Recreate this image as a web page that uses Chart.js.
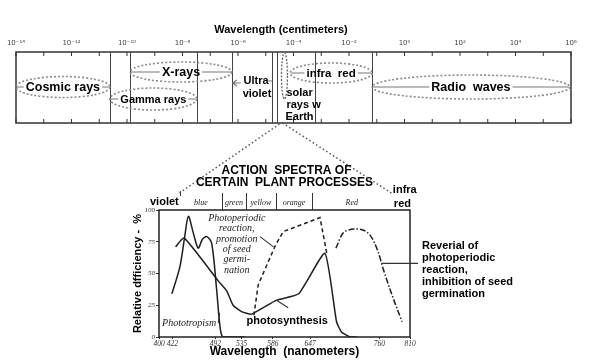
<!DOCTYPE html>
<html>
<head>
<meta charset="utf-8">
<script src="https://cdn.jsdelivr.net/npm/chart.js@4.4.1/dist/chart.umd.min.js"></script>
<style>
  html, body { margin: 0; padding: 0; background: #fff; }
  #wrap { position: relative; width: 591px; height: 364px; overflow: hidden; }
  #wrap canvas { position: absolute; left: 0; top: 0; }
</style>
</head>
<body>
<div id="wrap">
  <canvas id="spectrum" width="591" height="364"></canvas>
  <canvas id="action" width="591" height="364"></canvas>
</div>
<script>
// ---- electromagnetic spectrum, wavelength in cm ----
const cmTicks = [1e-14, 1e-12, 1e-10, 1e-8, 1e-6, 1e-4, 1e-2, 1e0, 1e2, 1e4, 1e6];
const regionNames = ['Cosmic rays', 'Gamma rays', 'X-rays', 'infra  red', 'Radio  waves'];
const regionFrom = [1e-14, 2.4e-11, 1.3e-10, 7.6e-5, 0.068];
const regionTo = [2.4e-11, 3.3e-8, 6e-7, 0.068, 9e5];
const uvRange = [6e-7, 1.7e-5];
const solarRange = [4e-5, 7.6e-5];
const dividersCm = [2.4e-11, 1.3e-10, 3.3e-8, 6e-7, 1.7e-5, 2.6e-5, 5.9e-4, 0.068];

// ---- action spectra, wavelength in nm, efficiency in % ----
const nmTicks = [400, 422, 492, 535, 586, 647, 760, 810];
const pctTicks = [0, 25, 50, 75, 100];
const bandNames = ['blue', 'green', 'yellow', 'orange', 'Red'];
const bandFrom = [434, 503, 542, 591, 650];
const bandTo = [503, 542, 591, 650, 780];
const zoomToNm = [431, 782];

const phototropismNm = [421, 434, 442, 448, 456, 464, 471, 478, 486, 494, 500, 505, 540];
const phototropismPct = [34, 55, 79, 95, 82, 70, 77, 79, 74, 38, 7, 0, 0];
const photosynthesisNm = [427, 441, 497, 511, 521, 535, 551, 592, 628, 671, 690, 698, 712, 723];
const photosynthesisPct = [71, 78, 44, 36, 25, 20, 18, 29, 34, 66, 12, 4, 0, 0];
const promotionNm = [555, 562, 590, 603, 663, 674];
const promotionPct = [17, 41, 72, 83, 94, 66];
const reversalNm = [689, 701, 723, 745, 758, 766, 777, 797];
const reversalPct = [70, 82, 85, 80, 67, 54, 38, 12];

const SANS = '"Liberation Sans", Arial, sans-serif';
const HAND = '"Liberation Serif", serif';
Chart.defaults.font.family = SANS;

const SUP = { '-': '\u207B', '0': '\u2070', '1': '\u00B9', '2': '\u00B2', '3': '\u00B3', '4': '\u2074',
  '5': '\u2075', '6': '\u2076', '7': '\u2077', '8': '\u2078', '9': '\u2079' };
const sup = n => String(n).split('').map(c => SUP[c]).join('');
const pts = (xs, ys) => xs.map((x, i) => ({ x: x, y: ys[i] }));

// vertical lane (px below box top) and half height of each region's oval
const regionLane = [35, 47, 20, 21, 35];
const regionRy = [10.5, 11, 10, 10, 12];
const regionFont = [12.5, 11, 12.5, 11.5, 12.5];

function oval(ctx, x1, x2, cy, ry) {
  ctx.beginPath();
  ctx.ellipse((x1 + x2) / 2, cy, (x2 - x1) / 2, ry, 0, 0, Math.PI * 2);
  ctx.stroke();
}

const spectrumPlugin = {
  id: 'spectrumDecor',
  afterDraw(chart) {
    const ctx = chart.ctx, a = chart.chartArea, x = chart.scales.x, y = chart.scales.y;
    ctx.save();
    // box
    ctx.strokeStyle = '#333';
    ctx.lineWidth = 1.5;
    ctx.strokeRect(a.left, a.top, a.right - a.left, a.bottom - a.top);
    // inward decade ticks
    ctx.lineWidth = 1;
    for (let e = -14; e <= 6; e++) {
      const px = x.getPixelForValue(Math.pow(10, e));
      ctx.beginPath();
      ctx.moveTo(px, a.top); ctx.lineTo(px, a.top + 4);
      ctx.moveTo(px, a.bottom); ctx.lineTo(px, a.bottom - 4);
      ctx.stroke();
    }
    // dividers
    ctx.strokeStyle = '#444';
    dividersCm.forEach(v => {
      const px = Math.round(x.getPixelForValue(v)) + 0.5;
      ctx.beginPath(); ctx.moveTo(px, a.top); ctx.lineTo(px, a.bottom); ctx.stroke();
    });
    // regions
    ctx.textAlign = 'center';
    ctx.textBaseline = 'middle';
    regionNames.forEach((name, i) => {
      const x1 = x.getPixelForValue(regionFrom[i]);
      const x2 = x.getPixelForValue(regionTo[i]);
      const cy = y.getPixelForValue(regionLane[i]);
      const cx = (x1 + x2) / 2;
      ctx.strokeStyle = '#8a8a8a';
      ctx.lineWidth = 1.6;
      ctx.setLineDash([2, 2]);
      oval(ctx, x1, x2, cy, regionRy[i]);
      ctx.setLineDash([]);
      ctx.font = 'bold ' + regionFont[i] + 'px ' + SANS;
      const w = ctx.measureText(name).width;
      ctx.strokeStyle = '#777';
      ctx.lineWidth = 1;
      ctx.beginPath();
      ctx.moveTo(x1 + 1, cy); ctx.lineTo(cx - w / 2 - 2, cy);
      ctx.moveTo(cx + w / 2 + 2, cy); ctx.lineTo(x2 - 1, cy);
      ctx.stroke();
      ctx.fillStyle = '#000';
      ctx.fillText(name, cx, cy + 0.5);
    });
    // ultra violet with arrows
    const u1 = x.getPixelForValue(uvRange[0]), u2 = x.getPixelForValue(uvRange[1]);
    const uc = (u1 + u2) / 2, uy = y.getPixelForValue(31);
    ctx.font = 'bold 11px ' + SANS;
    ctx.fillStyle = '#000';
    ctx.fillText('Ultra', uc + 4, y.getPixelForValue(29));
    ctx.fillText('violet', uc + 5, y.getPixelForValue(42));
    ctx.strokeStyle = '#777';
    ctx.lineWidth = 1.2;
    ctx.beginPath();
    ctx.moveTo(u1 + 9, uy); ctx.lineTo(u1 + 1, uy);
    ctx.moveTo(u1 + 5, uy - 3); ctx.lineTo(u1 + 1, uy); ctx.lineTo(u1 + 5, uy + 3);
    ctx.moveTo(u2 - 5, uy - 2); ctx.lineTo(u2, uy - 2);
    ctx.stroke();
    // solar rays at earth
    const s1 = x.getPixelForValue(solarRange[0]);
    ctx.strokeStyle = '#666';
    ctx.lineWidth = 1.3;
    ctx.setLineDash([2, 1.5]);
    oval(ctx, s1 - 1, s1 + 5, y.getPixelForValue(24), 23);
    ctx.setLineDash([]);
    ctx.textAlign = 'left';
    ctx.font = 'bold 11px ' + SANS;
    ctx.fillText('solar', s1 + 4, y.getPixelForValue(41));
    ctx.fillText('rays w', s1 + 4, y.getPixelForValue(53));
    ctx.fillText('Earth', s1 + 3, y.getPixelForValue(65));
    // axis title
    ctx.textAlign = 'center';
    ctx.font = 'bold 11px ' + SANS;
    ctx.fillText('Wavelength (centimeters)', a.left + 265, 30);
    ctx.restore();
  }
};

const spectrumChart = new Chart(document.getElementById('spectrum'), {
  type: 'scatter',
  data: { datasets: [] },
  options: {
    responsive: false,
    animation: false,
    layout: { padding: { left: 16, right: 20, top: 40, bottom: 241 } },
    plugins: { legend: { display: false }, tooltip: { enabled: false } },
    scales: {
      x: {
        type: 'logarithmic',
        position: 'top',
        min: 1e-14,
        max: 1e6,
        afterBuildTicks: s => { s.ticks = cmTicks.map(v => ({ value: v })); },
        afterFit: s => { s.height = 12; },
        grid: { display: false, drawTicks: false },
        border: { display: false },
        ticks: {
          autoSkip: false, maxRotation: 0, padding: 5, color: '#444',
          font: { size: 7, family: '"DejaVu Sans", sans-serif' },
          callback: v => '10' + sup(Math.round(Math.log10(v)))
        }
      },
      y: { display: false, reverse: true, min: 0, max: 71 }
    }
  },
  plugins: [spectrumPlugin]
});

const actionPlugin = {
  id: 'actionDecor',
  afterDraw(chart) {
    const ctx = chart.ctx, a = chart.chartArea, x = chart.scales.x, y = chart.scales.y;
    const px = v => x.getPixelForValue(v), py = v => y.getPixelForValue(v);
    ctx.save();
    // plot frame
    ctx.strokeStyle = '#222';
    ctx.lineWidth = 1.5;
    ctx.strokeRect(a.left, a.top, a.right - a.left, a.bottom - a.top);
    // colour bands row
    ctx.lineWidth = 1;
    ctx.strokeStyle = '#333';
    ctx.beginPath();
    ctx.moveTo(Math.round(px(bandFrom[0])) + 0.5, a.top - 19); ctx.lineTo(Math.round(px(bandFrom[0])) + 0.5, a.top - 14);
    bandTo.slice(0, -1).forEach(v => {
      const bx = Math.round(px(v)) + 0.5;
      ctx.moveTo(bx, a.top - 17); ctx.lineTo(bx, a.top);
    });
    ctx.stroke();
    ctx.fillStyle = '#222';
    ctx.textAlign = 'center';
    ctx.textBaseline = 'middle';
    ctx.font = 'italic 8px ' + HAND;
    bandNames.forEach((n, i) => ctx.fillText(n, px((bandFrom[i] + bandTo[i]) / 2), a.top - 7));
    ctx.fillStyle = '#000';
    ctx.font = 'bold 11px ' + SANS;
    ctx.textAlign = 'left';
    ctx.fillText('violet', a.left - 9, a.top - 8);
    ctx.fillText('infra', px(zoomToNm[1]), a.top - 20);
    ctx.fillText('red', px(zoomToNm[1]) + 1, a.top - 6);
    // title
    ctx.textAlign = 'center';
    ctx.font = 'bold 12px ' + SANS;
    const tc = (a.left + a.right) / 2;
    ctx.fillText('ACTION  SPECTRA OF', tc + 2, a.top - 39);
    ctx.fillText('CERTAIN  PLANT PROCESSES', tc, a.top - 27);
    // curve labels
    ctx.font = 'italic 10px ' + HAND;
    ctx.fillStyle = '#222';
    ['Photoperiodic', 'reaction,', 'promotion', 'of seed', 'germi-', 'nation'].forEach((t, i) => {
      ctx.fillText(t, px(527), py(93.5) + i * 10.4);
    });
    ctx.textAlign = 'left';
    ctx.fillText('Phototropism', px(405), py(11));
    ctx.fillStyle = '#000';
    ctx.font = 'bold 11px ' + SANS;
    ctx.fillText('photosynthesis', px(543), py(12.5));
    ['Reverial of', 'photoperiodic', 'reaction,', 'inhibition of seed', 'germination'].forEach((t, i) => {
      ctx.fillText(t, a.right + 12, 246 + i * 12);
    });
    // leaders
    ctx.strokeStyle = '#333';
    ctx.lineWidth = 1.1;
    ctx.beginPath();
    ctx.moveTo(px(565), py(79)); ctx.lineTo(px(587), py(71));
    ctx.moveTo(px(592), py(29)); ctx.lineTo(px(611), py(23));
    ctx.moveTo(px(497), py(11)); ctx.lineTo(px(499), py(19));
    ctx.moveTo(px(763.5), py(58)); ctx.lineTo(a.right + 8, py(58));
    ctx.stroke();
    // zoom lines from the visible slice of the spectrum
    const sx = spectrumChart.scales.x, sb = spectrumChart.chartArea.bottom;
    ctx.strokeStyle = '#555';
    ctx.lineWidth = 1.5;
    ctx.setLineDash([1.5, 2.5]);
    ctx.beginPath();
    ctx.moveTo(sx.getPixelForValue(solarRange[0]) - 3, sb + 1); ctx.lineTo(px(zoomToNm[0]), a.top - 16);
    ctx.moveTo(sx.getPixelForValue(solarRange[0]), sb); ctx.lineTo(px(zoomToNm[1]), a.top - 16);
    ctx.stroke();
    ctx.restore();
  }
};

new Chart(document.getElementById('action'), {
  type: 'line',
  data: {
    datasets: [
      { label: 'Phototropism', data: pts(phototropismNm, phototropismPct), tension: 0.3 },
      { label: 'photosynthesis', data: pts(photosynthesisNm, photosynthesisPct), tension: 0.15 },
      { label: 'Photoperiodic reaction, promotion of seed germination', data: pts(promotionNm, promotionPct), borderDash: [4, 3], tension: 0 },
      { label: 'Reverial of photoperiodic reaction', data: pts(reversalNm, reversalPct), borderDash: [6, 2, 1.5, 2], cubicInterpolationMode: 'monotone' }
    ]
  },
  options: {
    responsive: false,
    animation: false,
    layout: { padding: { left: 131, right: 181, top: 210, bottom: 5 } },
    elements: {
      line: { borderColor: '#1e1e1e', borderWidth: 1.5, fill: false },
      point: { radius: 0 }
    },
    plugins: { legend: { display: false }, tooltip: { enabled: false } },
    scales: {
      x: {
        type: 'linear',
        min: 400,
        max: 810,
        afterBuildTicks: s => { s.ticks = nmTicks.map(v => ({ value: v })); },
        afterFit: s => { s.height = 22; },
        grid: { drawOnChartArea: false, tickLength: 2, color: '#333' },
        border: { display: false },
        ticks: { autoSkip: false, maxRotation: 0, padding: 1, color: '#333', font: { size: 7.5, style: 'italic', family: HAND } },
        title: { display: true, text: 'Wavelength  (nanometers)', color: '#000', padding: { top: 0, bottom: 0 }, font: { size: 12, weight: 'bold' } }
      },
      y: {
        min: 0,
        max: 100,
        afterBuildTicks: s => { s.ticks = pctTicks.map(v => ({ value: v })); },
        afterFit: s => { s.width = 28; },
        grid: { drawOnChartArea: false, tickLength: 3, color: '#333' },
        border: { display: false },
        ticks: { padding: 1, color: '#333', font: { size: 7, style: 'italic', family: HAND } },
        title: { display: true, text: 'Relative dfficiency -  %', color: '#000', padding: { top: 0, bottom: 0 }, font: { size: 11, weight: 'bold' } }
      }
    }
  },
  plugins: [actionPlugin]
});
</script>
</body>
</html>
